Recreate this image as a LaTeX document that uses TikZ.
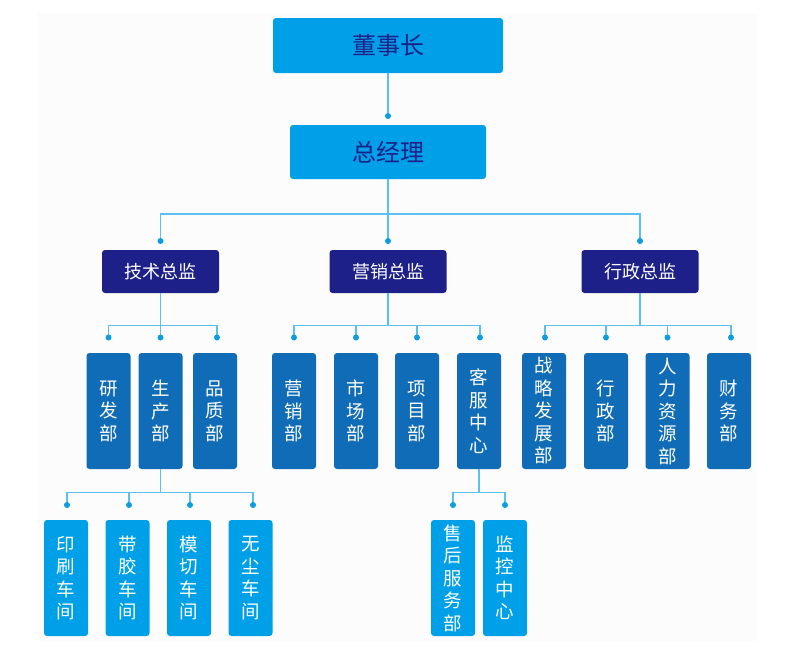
\documentclass[tikz,border=0pt]{standalone}
\usepackage{fontspec}
\newfontfamily\cjk{Noto Sans CJK SC}
\definecolor{topblue}{HTML}{00A0E9}
\definecolor{navy}{HTML}{1D2088}
\definecolor{midblue}{HTML}{106CB6}
\definecolor{linec}{HTML}{5BC0EE}
\definecolor{dotc}{HTML}{0C9CE2}
\definecolor{panel}{HTML}{FCFCFC}
\tikzset{
 box/.style={rounded corners=3pt, inner sep=0pt, align=center},
 topbox/.style={box, fill=topblue, text=navy, font=\cjk\fontsize{24}{28}\selectfont},
 dirbox/.style={box, fill=navy, text=white, minimum width=117pt, minimum height=43pt, font=\cjk\fontsize{18}{22}\selectfont},
 deptbox/.style={box, fill=midblue, text=white, minimum width=44pt, minimum height=116pt, font=\cjk\fontsize{18.5}{22.5}\selectfont},
 subbox/.style={deptbox, fill=topblue},
 conn/.style={draw=linec, line width=1.2pt},
 dotmark/.style={fill=dotc}
}
\begin{document}
\begin{tikzpicture}[x=1pt,y=-1pt]
\useasboundingbox (0,0) rectangle (788,656);
\fill[panel] (38,13) rectangle (757,641);
% top
\node[topbox, minimum width=230pt, minimum height=55pt] (ceo) at (388,45.5) {董事长};
\node[topbox, minimum width=196pt, minimum height=54pt] (gm) at (388,152) {总经理};
% directors
\node[dirbox] (tech) at (160.5,271.5) {技术总监};
\node[dirbox] (mkt) at (388,271.5) {营销总监};
\node[dirbox] (adm) at (640,271.5) {行政总监};
% departments
\node[deptbox] (yf) at (108.5,411) {研\\发\\部};
\node[deptbox] (sc) at (160.5,411) {生\\产\\部};
\node[deptbox] (pz) at (215,411) {品\\质\\部};
\node[deptbox] (yx) at (294,411) {营\\销\\部};
\node[deptbox] (sh) at (356,411) {市\\场\\部};
\node[deptbox] (xm) at (417,411) {项\\目\\部};
\node[deptbox] (kf) at (479,411) {客\\服\\中\\心};
\node[deptbox] (zl) at (544,411) {战\\略\\发\\展\\部};
\node[deptbox] (xz) at (606,411) {行\\政\\部};
\node[deptbox] (rl) at (667.5,411) {人\\力\\资\\源\\部};
\node[deptbox] (cw) at (729,411) {财\\务\\部};
% workshops
\node[subbox] (ys) at (66,578) {印\\刷\\车\\间};
\node[subbox] (dj) at (127.5,578) {带\\胶\\车\\间};
\node[subbox] (mq) at (189,578) {模\\切\\车\\间};
\node[subbox] (wc) at (250.5,578) {无\\尘\\车\\间};
\node[subbox] (shfw) at (453,578) {售\\后\\服\\务\\部};
\node[subbox] (jk) at (505,578) {监\\控\\中\\心};
% dot coordinates
\coordinate (dgm) at (388,116);
\coordinate (dtech) at (160.5,241);
\coordinate (dmkt) at (388,241);
\coordinate (dadm) at (640,241);
\foreach \n/\x in {yf/108.5,sc/160.5,pz/217,yx/294,sh/356,xm/417,kf/480,zl/545,xz/606,rl/667.5,cw/731}
  \coordinate (d\n) at (\x,337.5);
\foreach \n/\x in {ys/67,dj/129,mq/190,wc/253,shfw/453,jk/505}
  \coordinate (d\n) at (\x,505);
% bus coordinates
\coordinate (b1) at (388,214);
\coordinate (btech) at (160.5,325.5);
\coordinate (bmkt) at (388,325.5);
\coordinate (badm) at (640,325.5);
\coordinate (bsc) at (160.5,492.5);
\coordinate (bkf) at (479,492.5);
% connectors
\draw[conn] (ceo.south) -- (dgm);
\foreach \c in {tech,mkt,adm} \draw[conn] (gm.south) -- (b1) -| (d\c);
\foreach \c in {yf,sc,pz} \draw[conn] (tech.south) -- (btech) -| (d\c);
\foreach \c in {yx,sh,xm,kf} \draw[conn] (mkt.south) -- (bmkt) -| (d\c);
\foreach \c in {zl,xz,rl,cw} \draw[conn] (adm.south) -- (badm) -| (d\c);
\foreach \c in {ys,dj,mq,wc} \draw[conn] (sc.south) -- (bsc) -| (d\c);
\foreach \c in {shfw,jk} \draw[conn] (kf.south) -- (bkf) -| (d\c);
% dots
\foreach \c in {gm,tech,mkt,adm,yf,sc,pz,yx,sh,xm,kf,zl,xz,rl,cw,ys,dj,mq,wc,shfw,jk}
  \fill[dotmark] (d\c) circle (3pt);
\end{tikzpicture}
\end{document}
